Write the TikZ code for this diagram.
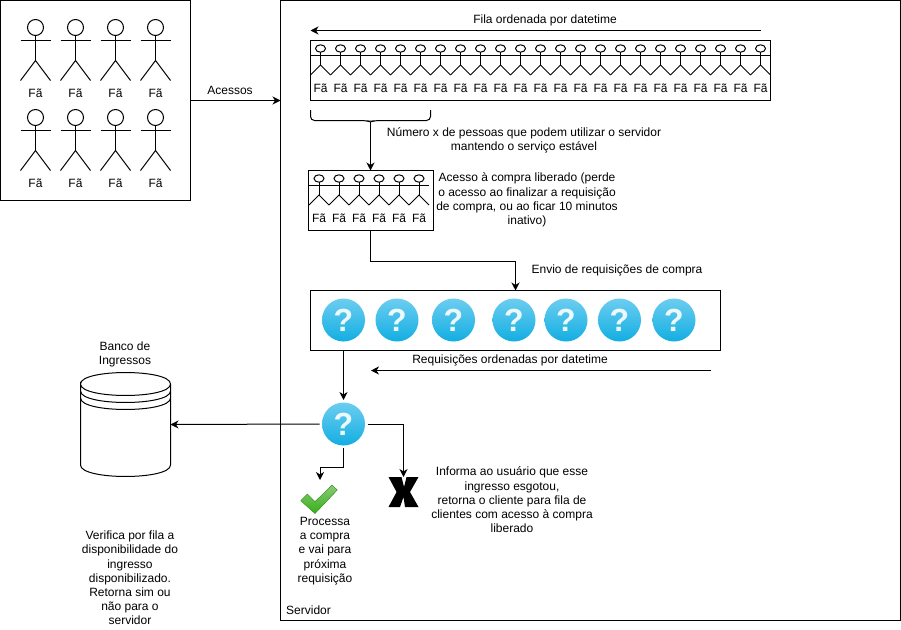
\documentclass[tikz,border=0pt]{standalone}
\usepackage{fontspec}
\setmainfont{Liberation Sans}
\usetikzlibrary{arrows.meta, positioning}

\definecolor{azulclaro}{HTML}{6CCDF0}
\definecolor{azulescuro}{HTML}{12AEE2}
\definecolor{verdeclaro}{HTML}{8CC97A}
\definecolor{verdeescuro}{HTML}{35B017}

\tikzset{
    texto/.style={align=center, inner sep=0pt, font=\fontsize{12}{14.2}\selectfont},
    caixa/.style={rectangle, draw, line width=1pt, outer sep=0pt},
    seta/.style={-{Stealth[length=8pt,width=8pt,inset=2.5pt]}, line width=1pt},
    pergunta/.style={
        circle,
        minimum size=43pt,
        inner sep=0pt,
        outer sep=2.5pt,
        top color=azulclaro,
        bottom color=azulescuro,
        text=white,
        text opacity=0.9,
        font=\fontsize{32}{32}\selectfont\bfseries
    },
    icone/.style={rectangle, inner sep=0pt, outer sep=0pt},
    fagrande/.pic={
        \draw[line width=1pt] (0,-12.5) circle (8pt);
        \draw[line width=1pt] (0,-4.5) -- (0,20.5) (-15,0.5) -- (15,0.5);
        \draw[line width=1pt] (-15,40.5) -- (0,20.5) -- (15,40.5);
        \node[texto] (-rotulo) at (0,53) {Fã};
    },
    fapequeno/.pic={
        \draw[line width=1pt] (0,-6.5) circle [x radius=5pt, y radius=3.7pt];
        \draw[line width=1pt] (0,-2.8) -- (0,10) (-10,0.5) -- (10,0.5);
        \draw[line width=1pt] (-10,20) -- (0,10) -- (10,20);
        \node[texto] (-rotulo) at (0,33.5) {Fã};
    }
}

\begin{document}
\begin{tikzpicture}[x=1pt, y=-1pt]

\useasboundingbox (0,0) rectangle (901,629);

\node[caixa, minimum width=190pt, minimum height=200pt] (publico) at (95.5,100.5) {};
\node[caixa, minimum width=620pt, minimum height=620pt] (servidor) at (590.5,310.5) {};
\node[caixa, minimum width=460pt, minimum height=60pt] (fila) at (540.5,70.5) {};
\node[caixa, minimum width=125pt, minimum height=60pt] (liberados) at (370.5,200.5) {};
\node[caixa, minimum width=410pt, minimum height=60pt] (requisicoes) at (515.5,320.5) {};

% fas do lado de fora
\foreach \x [count=\n] in {35.5,75.5,115.5,155.5} {
    \pic (cima\n) at (\x,40) {fagrande};
    \pic (baixo\n) at (\x,130) {fagrande};
}

% fila e acesso liberado
\foreach \n in {0,...,22} {
    \pic (fila\n) at (320.5+20*\n,55) {fapequeno};
}
\foreach \n in {0,...,5} {
    \pic (liberado\n) at (319+20*\n,185) {fapequeno};
}

% requisicoes
\foreach \x [count=\n] in {343.5,397,453.5,514,566,619.5,674} {
    \node[pergunta] (req\n) at (\x,320) {?};
}
\node[pergunta] (atual) at (343.5,424) {?};

% banco
\node[icone, minimum width=90pt, minimum height=104pt] (banco) at (125.5,424.5) {};
\draw[line width=1pt] (80.5,384) .. controls (80.5,368.7) and (170.5,368.7) .. (170.5,384)
    .. controls (170.5,399.3) and (80.5,399.3) .. (80.5,384)
    -- (80.5,465) .. controls (80.5,480.3) and (170.5,480.3) .. (170.5,465) -- (170.5,384);
\draw[line width=1pt] (80.5,391) .. controls (80.5,406.3) and (170.5,406.3) .. (170.5,391);
\draw[line width=1pt] (80.5,398) .. controls (80.5,413.3) and (170.5,413.3) .. (170.5,398);

% icones de resposta
\node[icone, minimum width=37pt, minimum height=38pt] (aprovado) at (320,499) {};
\shade[top color=verdeclaro, bottom color=verdeescuro, draw=verdeescuro!80!black, line join=round]
    (300.7,500.7) -- (315,513.5) -- (337.3,490) -- (332,485) -- (315,501.7) -- (307.3,494) -- cycle;
\node[icone, minimum width=30pt, minimum height=30pt] (recusa) at (403.5,492) {};
\fill (388.5,477) -- (401.5,477) -- (404,487) -- (406.5,477) -- (418.5,477) -- (410,492)
    -- (418.5,507) -- (405,507) -- (403.5,497) -- (400,507) -- (388.5,507) -- (396.6,492) -- cycle;

% chave
\coordinate (chave) at (370.5,122);
\draw[line width=1pt, rounded corners=4pt] (310.5,110) -- (310.5,120.5) -- (366,120.5)
    -- (chave) -- (375,120.5) -- (430.5,120.5) -- (430.5,110);

% setas livres
\coordinate (filaini) at (760.5,30.5);
\coordinate (filafim) at (310.5,30.5);
\coordinate (reqini) at (710.5,370.5);
\coordinate (reqfim) at (371,370.5);

\draw[seta] (filaini) -- (filafim);
\draw[seta] (reqini) -- (reqfim);
\draw[seta] (publico.east) -- (publico.east -| servidor.west);
\draw[seta] (chave) -- (liberados.north);
\draw[seta] (liberados.south) -- ++(0,31) -| (requisicoes.north);
\draw[seta] (requisicoes.south -| atual.north) -- (atual.north);
\draw[seta] (atual.west) -- (banco.east);
\draw[seta] (atual.east) -| (recusa.north);
\draw[seta] (atual.south) -- ++(0,19.5) -| (aprovado.north);

% textos
\node[texto] (acessos) at (230,90) {Acessos};
\node[texto] (filatxt) at (545,20) {Fila ordenada por datetime};
\node[texto] (numero) at (524,140) {Número x de pessoas que podem utilizar o servidor\\mantendo o serviço estável};
\node[texto] (acesso) at (527,200) {Acesso à compra liberado (perde\\o acesso ao finalizar a requisição\\de compra, ou ao ficar 10 minutos\\inativo)};
\node[texto] (envio) at (617,270) {Envio de requisições de compra};
\node[texto] (ordem) at (510,360) {Requisições ordenadas por datetime};
\node[texto] (bancotxt) at (125,354) {Banco de\\Ingressos};
\node[texto] (verifica) at (130,578) {Verifica por fila a\\disponibilidade do\\ingresso\\disponibilizado.\\Retorna sim ou\\não para o\\servidor};
\node[texto] (processa) at (325,551) {Processa\\a compra\\e vai para\\próxima\\requisição};
\node[texto] (informa) at (512,500) {Informa ao usuário que esse\\ingresso esgotou,\\retorna o cliente para fila de\\clientes com acesso à compra\\liberado};
\node[texto, anchor=west] (servidortxt) at (286,610) {Servidor};

\end{tikzpicture}
\end{document}
